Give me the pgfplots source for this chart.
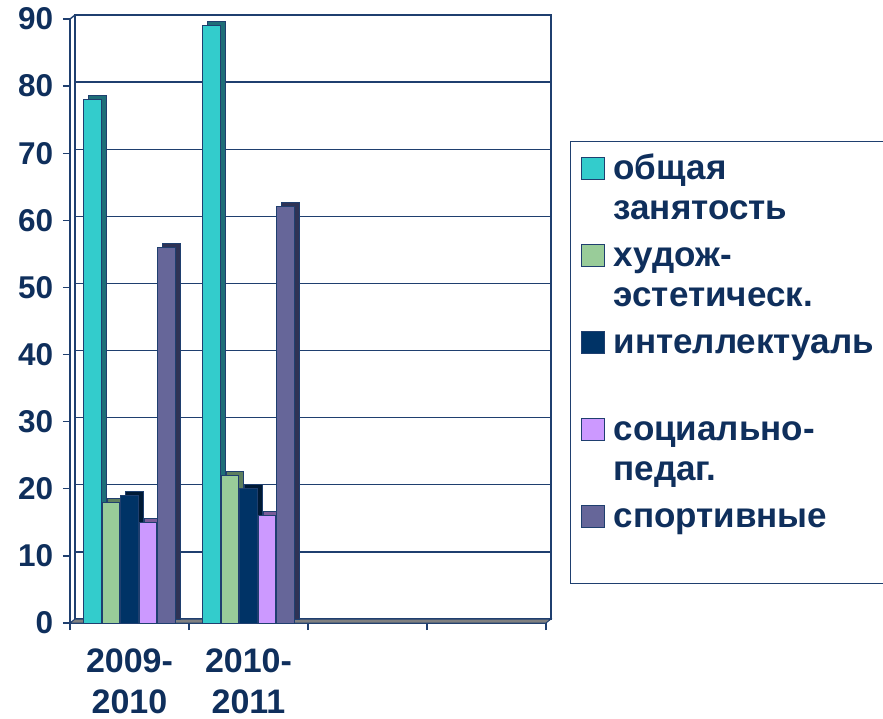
\documentclass[border=0pt]{standalone}
\usepackage{fontspec}
\setmainfont{Liberation Sans}
\usepackage{pgfplots}
\usepackage{pgfplotstable}
\pgfplotsset{compat=1.18}
\definecolor{txt}{HTML}{0F2F5C}
\definecolor{ln}{HTML}{1F3F6F}
\definecolor{cA}{HTML}{33CCCC}\definecolor{cAd}{HTML}{1E6E78}
\definecolor{cB}{HTML}{99CC99}\definecolor{cBd}{HTML}{5E7F5E}
\definecolor{cC}{HTML}{003366}\definecolor{cCd}{HTML}{001A35}
\definecolor{cD}{HTML}{CC99FF}\definecolor{cDd}{HTML}{7A5C99}
\definecolor{cE}{HTML}{666699}\definecolor{cEd}{HTML}{2F3355}
\newcommand\strutF{\rule{0pt}{18pt}}
\newcommand\strutC{\rule{0pt}{14pt}}
\newcommand\strutE{\rule{0pt}{18.25pt}}
\pgfplotstableread{
x v
0 78
1 89
}\tA
\pgfplotstableread{
x v
0 18
1 22
}\tB
\pgfplotstableread{
x v
0 19
1 20
}\tC
\pgfplotstableread{
x v
0 15
1 16
}\tD
\pgfplotstableread{
x v
0 56
1 62
}\tE
\begin{document}
\begin{tikzpicture}
\useasboundingbox (0,0) rectangle (441.5pt,359pt);
% back wall
\begin{axis}[at={(37.5pt,49.5pt)}, anchor=south west, scale only axis,
  width=238pt, height=302pt, xmin=-0.5, xmax=3.5, ymin=0, ymax=90,
  xtick=\empty, ytick={10,20,...,80}, yticklabels={,,,,,,,},
  major tick length=0pt, ymajorgrids,
  major grid style={ln, line width=0.7pt},
  axis line style={ln, line width=0.7pt}]
\addplot[draw=none, forget plot] coordinates {(0,0)};
\end{axis}
% front
\begin{axis}[at={(35pt,47.5pt)}, anchor=south west, scale only axis,
  width=238pt, height=302pt, xmin=-0.5, xmax=3.5, ymin=0, ymax=90, clip=false,
  axis x line*=bottom, axis y line*=left,
  axis line style={ln, line width=0.7pt},
  tick align=outside, major tick length=3.5pt, tick style={ln, line width=0.7pt},
  ytick={0,10,...,90},
  xtick={-0.5,0.5,1.5,2.5,3.5}, xticklabels={,,,,},
  extra x ticks={0,1}, extra x tick labels={{2009-\\2010},{2010-\\2011}},
  extra x tick style={major tick length=0pt},
  /pgf/number format/assume math mode=true,
  yticklabel style={font=\bfseries\fontsize{15.75}{18}\selectfont, text=txt, inner sep=0pt, xshift=-4.75pt},
  xticklabel style={font=\bfseries\fontsize{17}{20.5}\selectfont, text=txt, align=center, inner sep=0pt, yshift=-12.5pt},
  legend style={at={(1.0504,0.798)}, anchor=north west, draw=ln, line width=0.6pt,
    inner xsep=5pt, inner ysep=1pt, row sep=2.75pt, column sep=4.5pt,
    font=\bfseries\fontsize{17.5}{20}\selectfont, text=txt,
    cells={anchor=west}, nodes={inner sep=0pt, text depth=3pt}},
  legend image code/.code={\draw[#1, line width=0.5pt] (0pt,-7.5pt) rectangle (11.5pt,3.5pt);}
]
% floor
\addplot[fill=gray, draw=ln, line width=0.5pt, forget plot] coordinates {(-0.5,0) (3.5,0) (3.542,0.596) (-0.458,0.596)} -- cycle;
\addplot[ln, line width=0.7pt, forget plot] coordinates {(-0.5,90) (-0.458,90.596)};
% A
\addplot[ybar, bar width=8.8pt, bar shift=-18.4pt, fill=cAd, draw=ln, line width=0.5pt, xshift=2.5pt, yshift=2pt, forget plot] table[x=x,y=v]{\tA};
\addplot[ybar, bar width=8.8pt, bar shift=-18.4pt, fill=cA, draw=ln, line width=0.5pt] table[x=x,y=v]{\tA};
\addlegendentry{\strutF общая}
\addlegendimage{empty legend}\addlegendentry{\strutC занятость}
% B
\addplot[ybar, bar width=8.8pt, bar shift=-9.2pt, fill=cBd, draw=ln, line width=0.5pt, xshift=2.5pt, yshift=2pt, forget plot] table[x=x,y=v]{\tB};
\addplot[ybar, bar width=8.8pt, bar shift=-9.2pt, fill=cB, draw=ln, line width=0.5pt] table[x=x,y=v]{\tB};
\addlegendentry{\strutF худож-}
\addlegendimage{empty legend}\addlegendentry{\strutC эстетическ.}
% C
\addplot[ybar, bar width=8.8pt, bar shift=0pt, fill=cCd, draw=ln, line width=0.5pt, xshift=2.5pt, yshift=2pt, forget plot] table[x=x,y=v]{\tC};
\addplot[ybar, bar width=8.8pt, bar shift=0pt, fill=cC, draw=ln, line width=0.5pt] table[x=x,y=v]{\tC};
\addlegendentry{\strutF интеллектуаль\hspace{-3pt}}
\addlegendimage{empty legend}\addlegendentry{\strutC}
% D
\addplot[ybar, bar width=8.8pt, bar shift=9.2pt, fill=cDd, draw=ln, line width=0.5pt, xshift=2.5pt, yshift=2pt, forget plot] table[x=x,y=v]{\tD};
\addplot[ybar, bar width=8.8pt, bar shift=9.2pt, fill=cD, draw=ln, line width=0.5pt] table[x=x,y=v]{\tD};
\addlegendentry{\strutF социально-}
\addlegendimage{empty legend}\addlegendentry{\strutC педаг.}
% E
\addplot[ybar, bar width=8.8pt, bar shift=18.4pt, fill=cEd, draw=ln, line width=0.5pt, xshift=2.5pt, yshift=2pt, forget plot] table[x=x,y=v]{\tE};
\addplot[ybar, bar width=8.8pt, bar shift=18.4pt, fill=cE, draw=ln, line width=0.5pt] table[x=x,y=v]{\tE};
\addlegendentry{\strutF спортивные}
\addlegendimage{empty legend}\addlegendentry{\strutE}
\end{axis}
\end{tikzpicture}
\end{document}
